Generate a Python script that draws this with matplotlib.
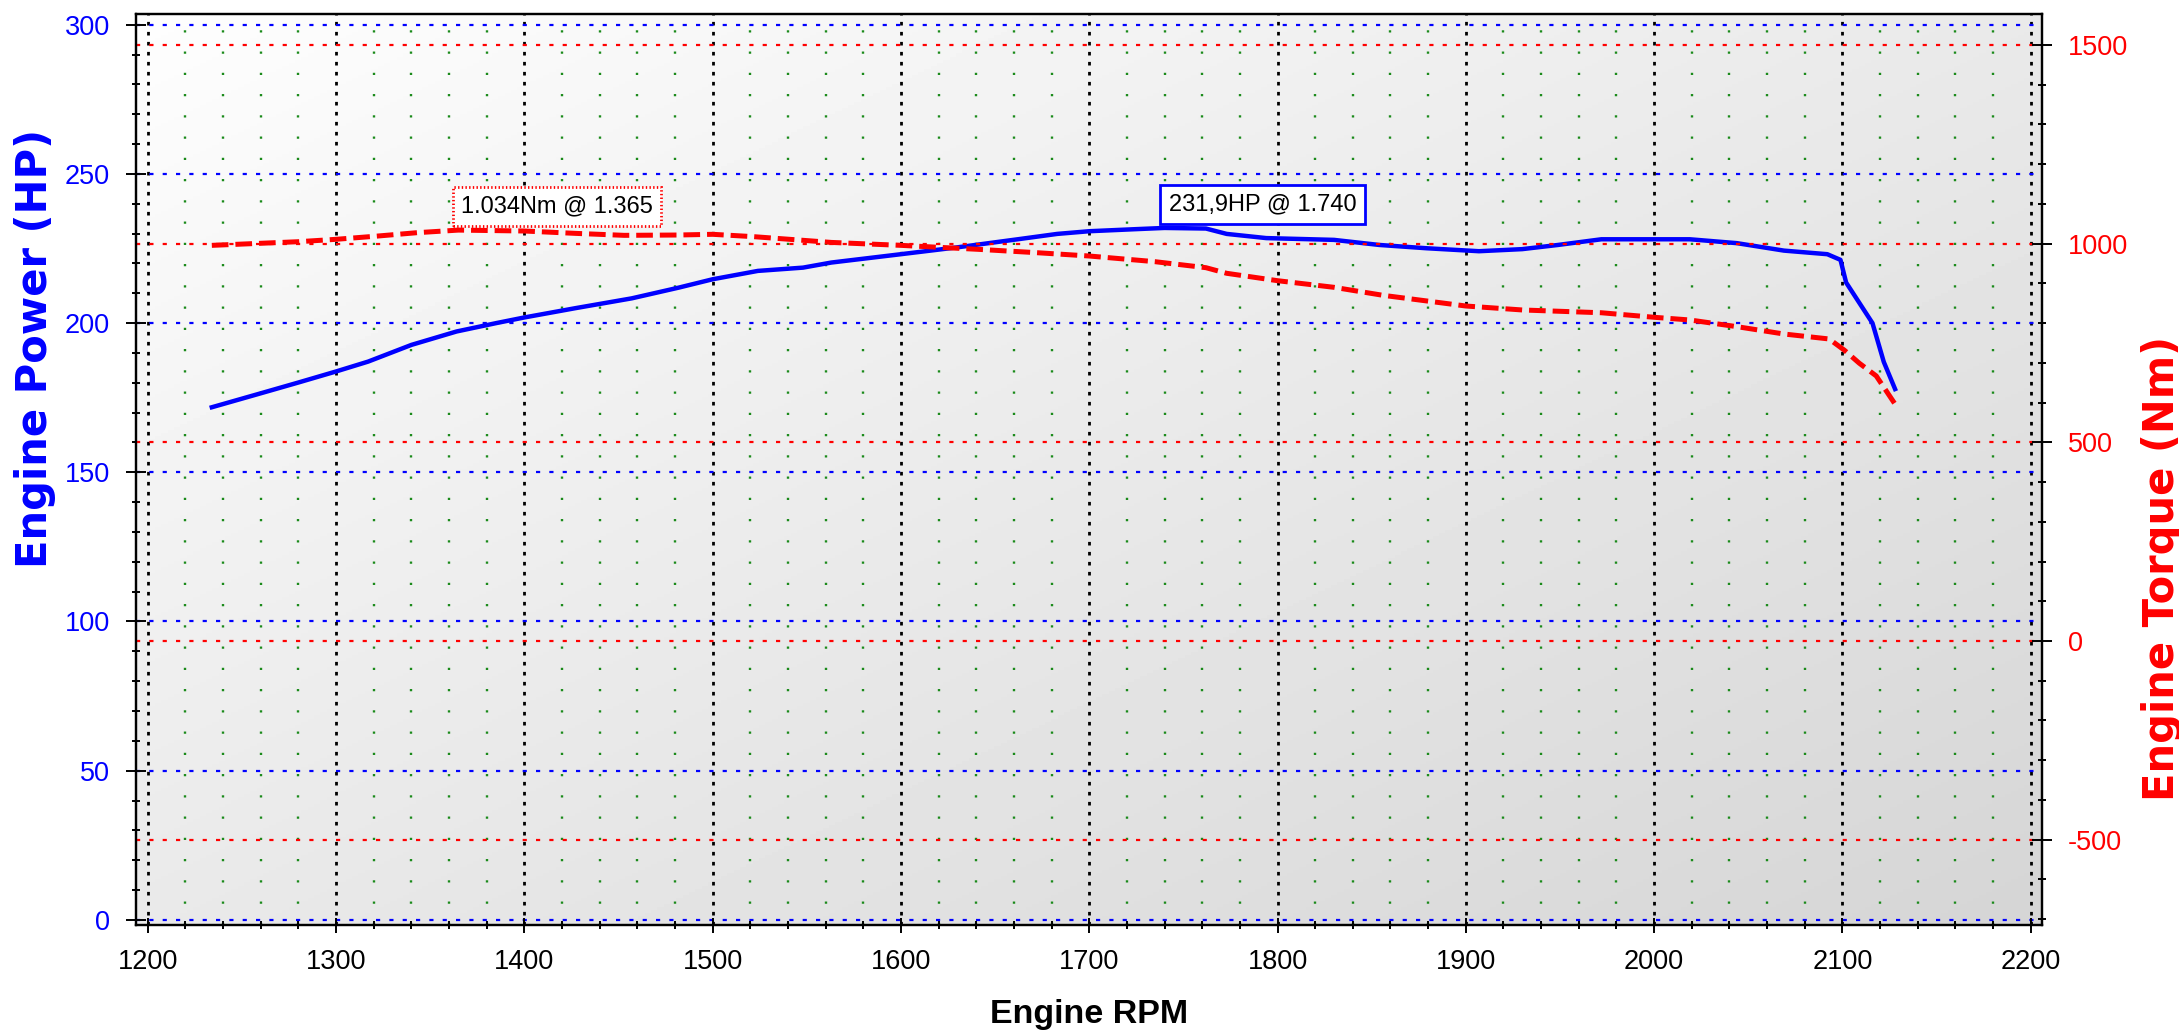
import numpy as np
import matplotlib
matplotlib.use("Agg")
from matplotlib import pyplot as plt
from matplotlib.ticker import MultipleLocator

plt.rcParams['font.family'] = ['Liberation Sans', 'DejaVu Sans']
plt.rcParams['axes.unicode_minus'] = False
plt.rcParams['lines.scale_dashes'] = False

# Curva de potencia (HP)
rpm_hp = [1234, 1259, 1280, 1300, 1317, 1340, 1364, 1385, 1400, 1427, 1457, 1482,
          1500, 1524, 1548, 1563, 1600, 1630, 1662, 1683, 1700, 1725, 1740, 1762,
          1773, 1794, 1830, 1854, 1879, 1907, 1930, 1949, 1972, 2019, 2044, 2069,
          2092, 2099, 2102, 2116, 2122, 2128]
hp = [171.8, 176.3, 180.1, 183.8, 187.1, 192.7, 197.2, 200.0, 201.9, 205.0, 208.3, 211.9,
      214.7, 217.5, 218.6, 220.3, 223.1, 225.4, 228.1, 229.9, 230.8, 231.5, 231.9, 231.7,
      229.9, 228.5, 227.9, 226.2, 225.1, 224.1, 224.8, 226.2, 228.1, 228.1, 226.8, 224.3,
      223.1, 221.2, 213.6, 200.0, 187.0, 177.9]

# Curva de par (Nm)
rpm_nm = [1234, 1259, 1280, 1300, 1322, 1343, 1365, 1400, 1427, 1453, 1481, 1500,
          1522, 1546, 1563, 1600, 1641, 1672, 1700, 1735, 1762, 1773, 1800, 1830,
          1856, 1900, 1930, 1972, 2000, 2019, 2044, 2069, 2093, 2101, 2109, 2118, 2128]
nm = [995.6, 1000.6, 1004.8, 1010.8, 1019.0, 1027.5, 1034.0, 1031.7, 1025.8, 1020.8, 1021.6, 1023.4,
      1017.4, 1009.0, 1003.0, 995.6, 985.6, 977.2, 968.8, 954.5, 939.4, 925.3, 906.7, 890.0,
      869.9, 843.0, 833.0, 826.0, 814.6, 807.8, 791.0, 772.5, 760.0, 732.0, 699.0, 667.0, 596.0]

# Picos anotados
peak_hp = (1740, 231.9, "231,9HP @ 1.740")
peak_nm = (1365, 1034, "1.034Nm @ 1.365")

rpm_ticks = list(range(1200, 2201, 100))
hp_ticks = list(range(0, 301, 50))
nm_ticks = list(range(-500, 1501, 500))

blue = '#0000ff'
red = '#ff0000'
green = '#1a8a1a'

W, H = 2179, 1030
fig = plt.figure(figsize=(W / 100, H / 100), dpi=100)
ax = fig.add_axes([0.0623, 0.102, 0.8748, 0.8844])
ax2 = ax.twinx()

ax.set_xlim(1193.6, 2206)
ax.set_ylim(-1.7, 303.6)
ax2.set_ylim(-714.6, 1577.8)

# Fondo degradado
u, v = np.meshgrid(np.linspace(0, 1, 300), np.linspace(1, 0, 300))
grad = 0.995 - 0.16 * (u + (1 - v)) / 2
ax.imshow(grad, cmap='gray', vmin=0, vmax=1, extent=[0, 1, 0, 1],
          transform=ax.transAxes, aspect='auto', zorder=0)

# Rejilla
for x in np.arange(1220, 2201, 20):
    if x % 100 != 0:
        ax.axvline(x, color=green, lw=1.7, dashes=(1.6, 13.7), zorder=1)
for x in rpm_ticks:
    ax.axvline(x, color='black', lw=2.0, dashes=(2.6, 4.6), zorder=1)
for y in hp_ticks:
    ax.axhline(y, color=blue, lw=1.6, dashes=(3.0, 6.6), zorder=1)
for y in nm_ticks:
    ax2.axhline(y, color=red, lw=1.6, dashes=(3.0, 6.6), zorder=1)

ax.plot(rpm_hp, hp, color=blue, lw=3.2, zorder=3)
ax2.plot(rpm_nm, nm, color=red, lw=3.6, dashes=(12.0, 5.0), zorder=3)

# Anotaciones
ax.annotate(peak_hp[2], xy=(peak_hp[0], peak_hp[1]), xytext=(3, 9), textcoords='offset points',
            ha='left', va='bottom', fontsize=17, color='black', zorder=5,
            bbox=dict(boxstyle='square,pad=0.35', fc='white', ec=blue, lw=2.0))
ax2.annotate(peak_nm[2], xy=(peak_nm[0], peak_nm[1]), xytext=(2, 9), textcoords='offset points',
             ha='left', va='bottom', fontsize=17, color='black', zorder=5,
             bbox=dict(boxstyle='square,pad=0.35', fc='white', ec=red, lw=2.0, ls=':'))

# Ejes
ax.set_xticks(rpm_ticks)
ax.xaxis.set_minor_locator(MultipleLocator(20))
ax.set_yticks(hp_ticks)
ax.yaxis.set_minor_locator(MultipleLocator(10))
ax2.set_yticks(nm_ticks)
ax2.yaxis.set_minor_locator(MultipleLocator(100))

ax.tick_params(axis='x', which='major', direction='inout', length=10.8, width=1.4,
               labelsize=19.5, pad=12.0)
ax.tick_params(axis='x', which='minor', direction='inout', length=5.8, width=1.4)
ax.tick_params(axis='y', which='major', direction='inout', length=13.7, width=1.4,
               labelsize=19.5, labelcolor=blue, pad=11.9)
ax.tick_params(axis='y', which='minor', direction='inout', length=6.0, width=1.4)
ax2.tick_params(axis='y', which='major', direction='inout', length=13.7, width=1.4,
                labelsize=19.5, labelcolor=red, pad=11.9)
ax2.tick_params(axis='y', which='minor', direction='inout', length=6.0, width=1.4)

for a in (ax, ax2):
    for s in a.spines.values():
        s.set_linewidth(1.6)
        s.set_color('black')

ax.set_xlabel('Engine RPM', fontsize=24.5, fontweight='bold')
ax.xaxis.set_label_coords(0.5, -0.081)

# Títulos de los ejes verticales (fuente más ancha, como en el original)
fig.text(35 / W, 1 - 348 / H, 'Engine Power (HP)', rotation=90, ha='center', va='center',
         fontsize=30, fontweight='bold', color=blue, family='DejaVu Sans')
fig.text(2162 / W, 1 - 568 / H, 'Engine Torque (Nm)', rotation=90, ha='center', va='center',
         fontsize=30, fontweight='bold', color=red, family='DejaVu Sans')

fig.savefig('out.png', dpi=100)
